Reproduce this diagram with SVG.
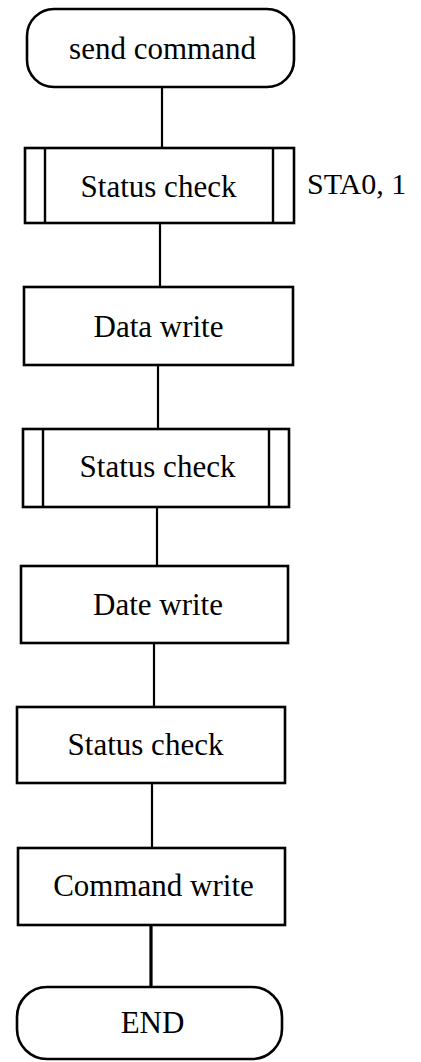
<svg xmlns="http://www.w3.org/2000/svg" width="421" height="1062" viewBox="0 0 421 1062">
<style>
.box{fill:#fff;stroke:#000;stroke-width:2.6}
.inner{stroke:#000;stroke-width:2.4;fill:none}
.conn{stroke:#000;stroke-width:2.2;fill:none}
.t{font-family:"Liberation Serif","Times New Roman",serif;font-size:31px;fill:#000;text-anchor:middle}
.lbl{font-family:"Liberation Serif","Times New Roman",serif;font-size:30px;fill:#000}
</style>
<rect width="421" height="1062" fill="#fff"/>
<g id="connectors">
<line class="conn" x1="162" y1="87" x2="162" y2="148"/>
<line class="conn" x1="160" y1="223" x2="160" y2="287"/>
<line class="conn" x1="158" y1="365" x2="158" y2="429"/>
<line class="conn" x1="157" y1="507" x2="157" y2="566"/>
<line class="conn" x1="154" y1="643" x2="154" y2="707"/>
<line class="conn" x1="152" y1="783" x2="152" y2="848"/>
<line class="conn" x1="151" y1="925" x2="151" y2="987" style="stroke-width:3.2"/>
</g>
<g id="send-command">
<rect class="box" x="27" y="9" width="267" height="78" rx="27" ry="27"/>
<text class="t" x="162.5" y="59">send command</text>
</g>
<g id="status-check-1">
<rect class="box" x="25" y="148" width="269" height="75"/>
<line class="inner" x1="45" y1="148" x2="45" y2="223"/>
<line class="inner" x1="273" y1="148" x2="273" y2="223"/>
<text class="t" x="158.5" y="197">Status check</text>
</g>
<g id="sta-label">
<text class="lbl" x="307" y="194">STA0, 1</text>
</g>
<g id="data-write">
<rect class="box" x="24" y="287" width="269" height="78"/>
<text class="t" x="158.5" y="337">Data write</text>
</g>
<g id="status-check-2">
<rect class="box" x="23" y="429" width="266" height="78"/>
<line class="inner" x1="43" y1="429" x2="43" y2="507"/>
<line class="inner" x1="269" y1="429" x2="269" y2="507"/>
<text class="t" x="157.5" y="477">Status check</text>
</g>
<g id="date-write">
<rect class="box" x="21" y="566" width="267" height="77"/>
<text class="t" x="158" y="615">Date write</text>
</g>
<g id="status-check-3">
<rect class="box" x="17" y="707" width="268" height="76"/>
<text class="t" x="145.5" y="755">Status check</text>
</g>
<g id="command-write">
<rect class="box" x="18" y="848" width="267" height="77"/>
<text class="t" x="153.5" y="896">Command write</text>
</g>
<g id="end">
<rect class="box" x="17" y="987" width="265" height="72" rx="30" ry="30"/>
<text class="t" x="152.5" y="1033">END</text>
</g>
</svg>
